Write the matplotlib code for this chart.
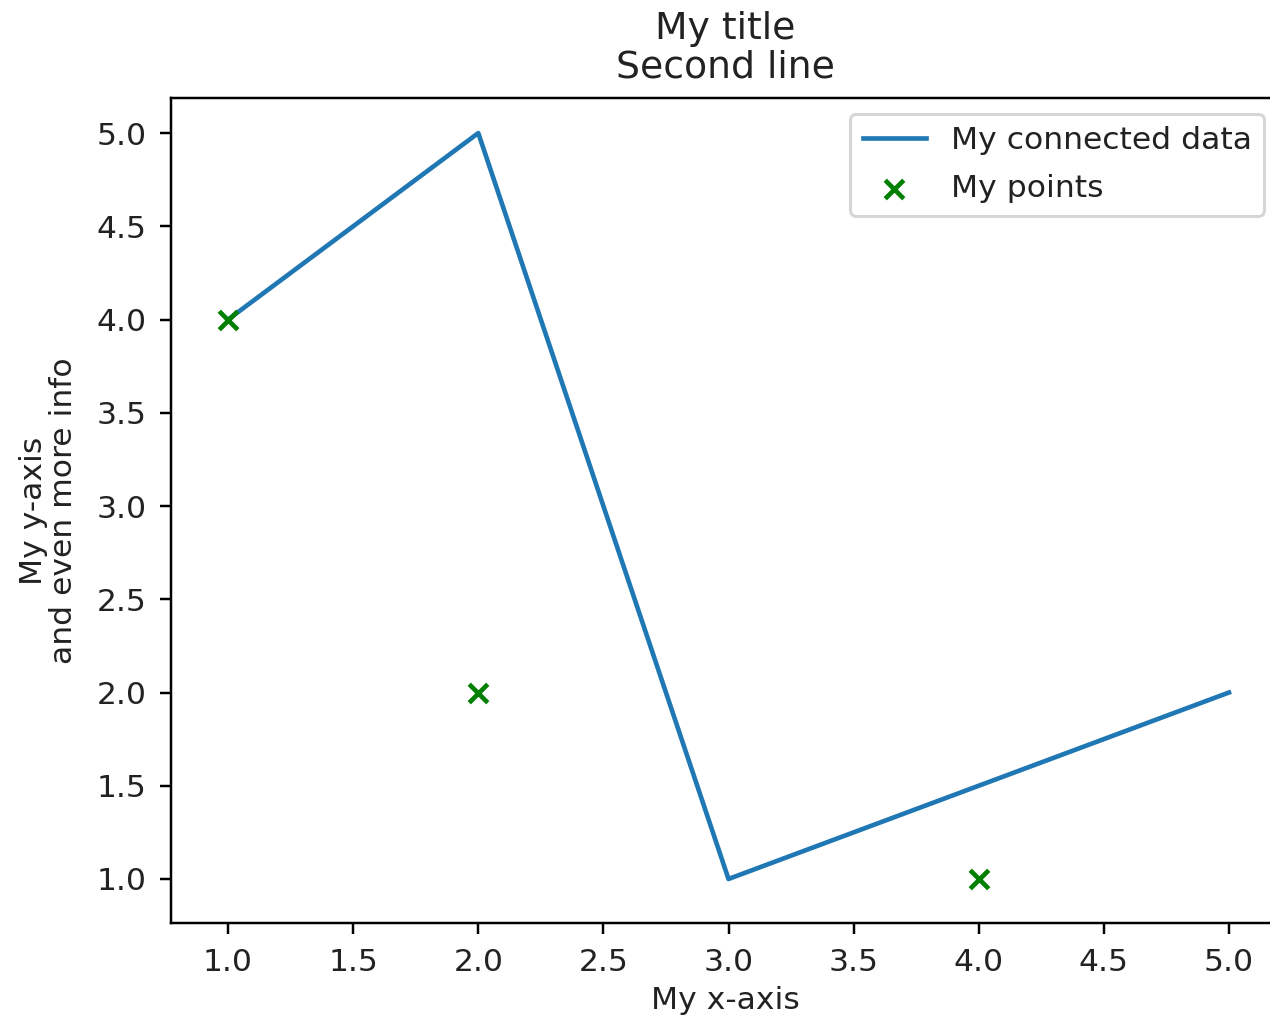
import matplotlib
matplotlib.use("Agg")
import matplotlib.pyplot as plt

# line data
line_x = [1, 2, 3, 4, 5]
line_y = [4, 5, 1, 1.5, 2]

# separate points
point_x = [1, 2, 4]
point_y = [4, 2, 1]

plt.rcParams["font.size"] = 10.2
plt.rcParams["text.color"] = "#222222"
plt.rcParams["axes.labelcolor"] = "#222222"
plt.rcParams["xtick.labelcolor"] = "#222222"
plt.rcParams["ytick.labelcolor"] = "#222222"

fig = plt.figure(figsize=(1270 / 222, 1020 / 222), dpi=222)
# axes box runs slightly past the right edge of the canvas
ax = fig.add_axes([171 / 1270, (1020 - 923) / 1020, 1109 / 1270, 825 / 1020])

ax.plot(line_x, line_y, label="My connected data")
ax.scatter(point_x, point_y, marker="x", color="green", label="My points", zorder=3)

ax.set_xlim(0.772, 5.204)
ax.set_ylim(0.764, 5.188)
ax.set_xticks([1.0, 1.5, 2.0, 2.5, 3.0, 3.5, 4.0, 4.5, 5.0])
ax.set_yticks([1.0, 1.5, 2.0, 2.5, 3.0, 3.5, 4.0, 4.5, 5.0])
ax.tick_params(axis="y", pad=4.5)
ax.tick_params(axis="x", pad=4.5)

ax.set_title("My title\nSecond line", linespacing=1.12, pad=6.5)
ax.set_xlabel("My x-axis", labelpad=3)
ax.set_ylabel("My y-axis\nand even more info", linespacing=1.05, labelpad=6)
ax.legend(loc="upper right", labelspacing=0.6)

fig.savefig("out.png", dpi=222)
